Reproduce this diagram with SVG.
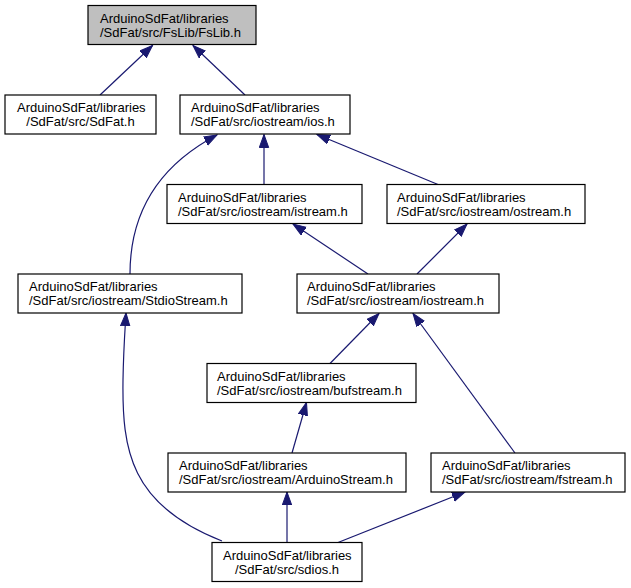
<svg xmlns="http://www.w3.org/2000/svg" width="631" height="588" viewBox="0 0 631 588">
<style>
.n rect{fill:#ffffff;stroke:#000000;stroke-width:1.2}
.n.root rect{fill:#bfbfbf}
.n text{font-family:"Liberation Sans",Arial,sans-serif;font-size:13px;fill:#000000}
.e path{fill:none;stroke:#191970;stroke-width:1.2}
</style>
<defs>
<marker id="ah" markerUnits="userSpaceOnUse" markerWidth="14" markerHeight="11" refX="13" refY="5" orient="auto">
<path d="M0,0.3 L13,5 L0,9.7 z" fill="#191970" stroke="#191970" stroke-width="1"/>
</marker>
</defs>
<rect width="631" height="588" fill="#ffffff"/>
<g id="connectors" class="e">
<path d="M100,95 L152.5,45.5" marker-end="url(#ah)"/>
<path d="M245,95 L193,45.5" marker-end="url(#ah)"/>
<path d="M264,184.5 L264,134.5" marker-end="url(#ah)"/>
<path d="M438,184.5 L317,134.5" marker-end="url(#ah)"/>
<path d="M130,274 C130,210 160,165 217,135" marker-end="url(#ah)"/>
<path d="M368,274 L293,224" marker-end="url(#ah)"/>
<path d="M417,274 L467,224" marker-end="url(#ah)"/>
<path d="M330,363.5 L379,313.5" marker-end="url(#ah)"/>
<path d="M515,453 L413,313.5" marker-end="url(#ah)"/>
<path d="M292,453 L306.5,402.5" marker-end="url(#ah)"/>
<path d="M287,542.5 L287,492" marker-end="url(#ah)"/>
<path d="M338,542.5 L465,492" marker-end="url(#ah)"/>
<path d="M222,541 C130,505 122,450 123,380 C123.5,350 125,330 126,313" marker-end="url(#ah)"/>
</g>
<g id="node-fslib" class="n root">
<rect x="88" y="5.5" width="168" height="39"/>
<text x="100" y="22.5">ArduinoSdFat/libraries</text>
<text x="100" y="36.5">/SdFat/src/FsLib/FsLib.h</text>
</g>
<g id="node-sdfat" class="n">
<rect x="5" y="95" width="151" height="39"/>
<text x="17" y="112">ArduinoSdFat/libraries</text>
<text x="80.5" y="126" text-anchor="middle">/SdFat/src/SdFat.h</text>
</g>
<g id="node-ios" class="n">
<rect x="180" y="95" width="170" height="39"/>
<text x="191" y="112">ArduinoSdFat/libraries</text>
<text x="191" y="126">/SdFat/src/iostream/ios.h</text>
</g>
<g id="node-istream" class="n">
<rect x="167" y="184.5" width="195" height="39"/>
<text x="178" y="201.5">ArduinoSdFat/libraries</text>
<text x="178" y="215.5">/SdFat/src/iostream/istream.h</text>
</g>
<g id="node-ostream" class="n">
<rect x="387" y="184.5" width="198" height="39"/>
<text x="397" y="201.5">ArduinoSdFat/libraries</text>
<text x="397" y="215.5">/SdFat/src/iostream/ostream.h</text>
</g>
<g id="node-stdiostream" class="n">
<rect x="18" y="274" width="224" height="39"/>
<text x="29" y="291">ArduinoSdFat/libraries</text>
<text x="29" y="305">/SdFat/src/iostream/StdioStream.h</text>
</g>
<g id="node-iostream" class="n">
<rect x="297" y="274" width="202" height="39"/>
<text x="307" y="291">ArduinoSdFat/libraries</text>
<text x="307" y="305">/SdFat/src/iostream/iostream.h</text>
</g>
<g id="node-bufstream" class="n">
<rect x="207" y="363.5" width="209" height="39"/>
<text x="217" y="380.5">ArduinoSdFat/libraries</text>
<text x="217" y="394.5">/SdFat/src/iostream/bufstream.h</text>
</g>
<g id="node-arduinostream" class="n">
<rect x="168" y="453" width="238" height="39"/>
<text x="179" y="470">ArduinoSdFat/libraries</text>
<text x="179" y="484">/SdFat/src/iostream/ArduinoStream.h</text>
</g>
<g id="node-fstream" class="n">
<rect x="431" y="453" width="194" height="39"/>
<text x="442" y="470">ArduinoSdFat/libraries</text>
<text x="442" y="484">/SdFat/src/iostream/fstream.h</text>
</g>
<g id="node-sdios" class="n">
<rect x="212" y="542.5" width="150" height="39"/>
<text x="223" y="559.5">ArduinoSdFat/libraries</text>
<text x="287" y="573.5" text-anchor="middle">/SdFat/src/sdios.h</text>
</g>
</svg>
